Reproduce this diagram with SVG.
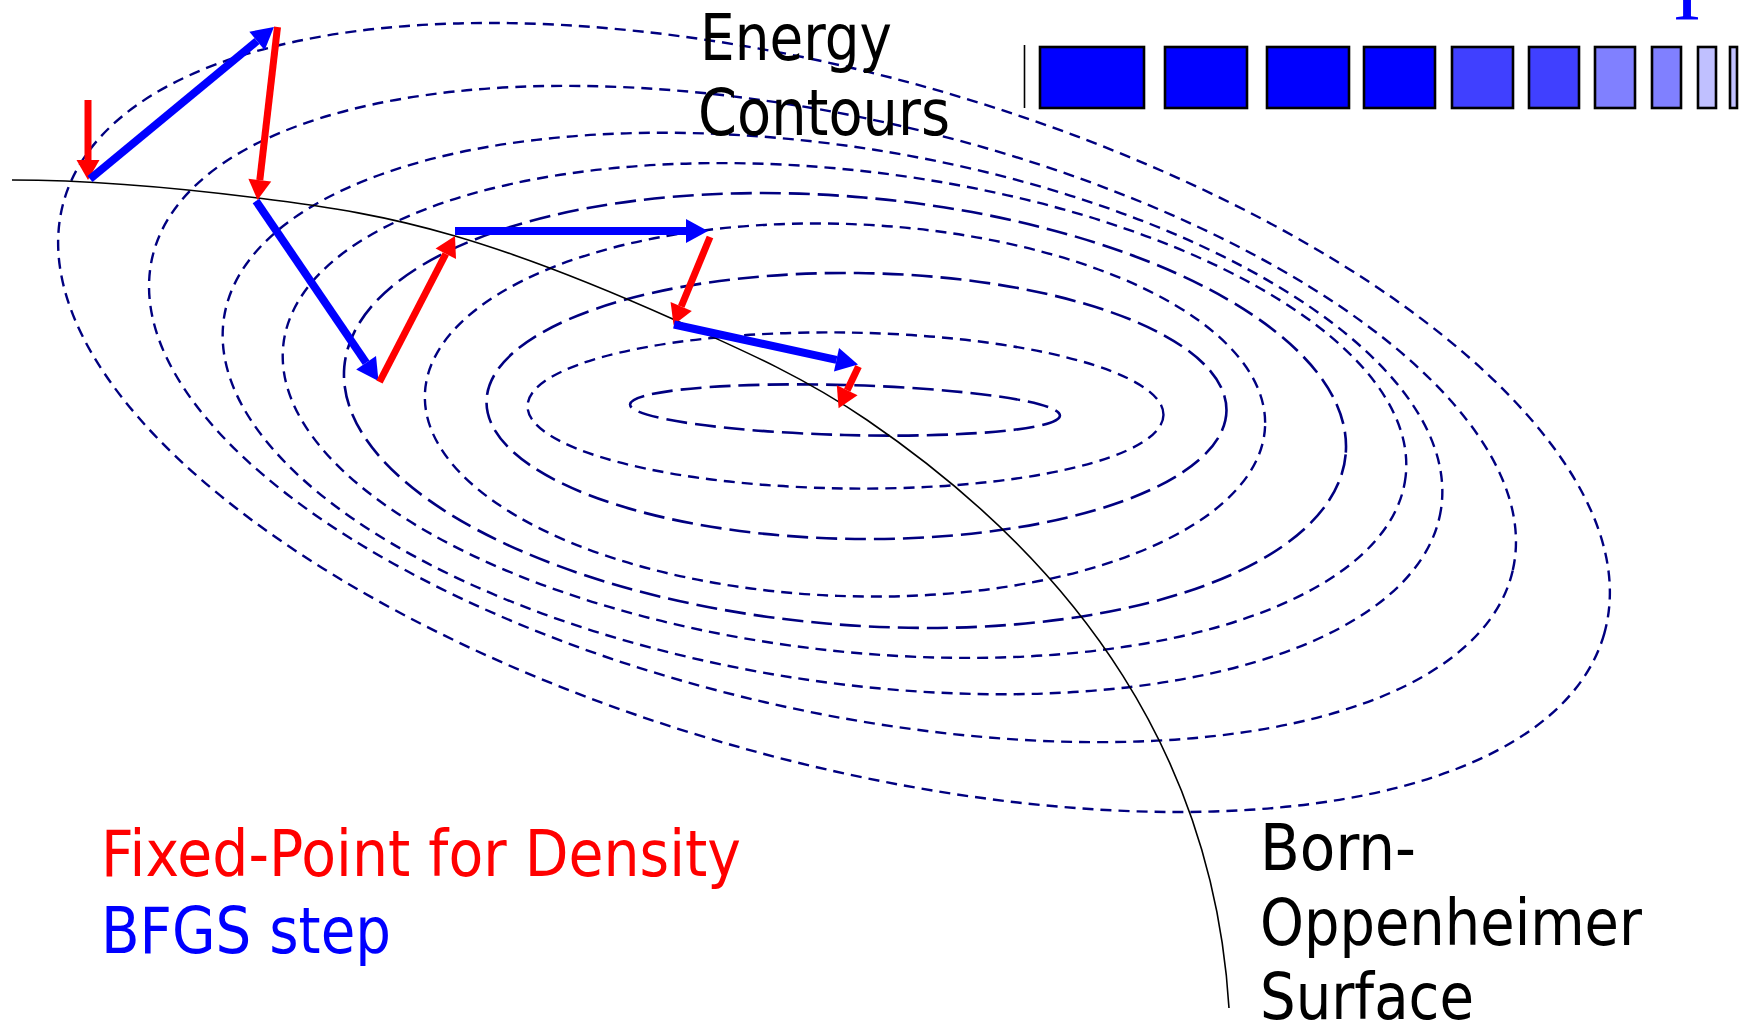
<svg xmlns="http://www.w3.org/2000/svg" width="1740" height="1027" viewBox="0 0 1740 1027">
<style>
.c{fill:none;stroke:#000080;stroke-width:2.4;stroke-dasharray:11 7}
.cl{fill:none;stroke:#000080;stroke-width:2.6;stroke-dasharray:21 8}
.bo{fill:none;stroke:#000;stroke-width:1.6}
.r{fill:none;stroke:#f00;stroke-width:7;marker-end:url(#hr)}
.b{fill:none;stroke:#00f;stroke-width:8;marker-end:url(#hb)}
.t{font-family:"DejaVu Sans",Verdana,sans-serif;font-size:64px}
.k{stroke:#000;stroke-width:2.6}
</style>
<defs>
<marker id="hr" markerUnits="userSpaceOnUse" markerWidth="20" markerHeight="24" refX="0" refY="12" orient="auto" overflow="visible"><path d="M0,0.5 L20,12 L0,23.5 Z" fill="#f00"/></marker>
<marker id="hb" markerUnits="userSpaceOnUse" markerWidth="22" markerHeight="24" refX="0" refY="12" orient="auto" overflow="visible"><path d="M0,0 L22,12 L0,24 Z" fill="#00f"/></marker>
</defs>
<g id="contours">
<ellipse class="cl" cx="845" cy="410" rx="215" ry="25" transform="rotate(1.5 845 410)"/>
<ellipse class="c" cx="845.5" cy="410.5" rx="318" ry="78" transform="rotate(0.8 845.5 410.5)"/>
<ellipse class="cl" cx="856.5" cy="406" rx="370" ry="133" transform="rotate(0.7 856.5 406)"/>
<ellipse class="c" cx="845" cy="410" rx="420.4" ry="186" transform="rotate(2.2 845 410)"/>
<ellipse class="cl" cx="845" cy="410.5" rx="502.6" ry="213.8" transform="rotate(5 845 410.5)"/>
<ellipse class="c" cx="844.5" cy="410.5" rx="565" ry="240" transform="rotate(6.75 844.5 410.5)"/>
<ellipse class="c" cx="832.5" cy="413.5" rx="616" ry="267" transform="rotate(9 832.5 413.5)"/>
<ellipse class="c" cx="832.5" cy="414" rx="698" ry="296" transform="rotate(12.95 832.5 414)"/>
<ellipse class="c" cx="834" cy="417.5" rx="800" ry="343" transform="rotate(15.65 834 417.5)"/>
</g>
<g id="born-oppenheimer-surface">
<path class="bo" d="M12,180 C100,180 184.2,188.7 258,198 C331.8,207.3 385.5,215.7 455,236 C524.5,256.3 606.3,289.3 675,320 C743.7,350.7 803.3,376.7 867,420 C1081.8,566.4 1214,760 1229,1008"/>
</g>
<g id="connectors">
<path class="r" d="M88,100 L88,160"/>
<path class="b" d="M90,179 L257,41"/>
<path class="r" d="M277.5,27 L259.8,180.1"/>
<path class="b" d="M256,201 L366.1,362.8"/>
<path class="r" d="M379.5,382 L445.8,253.8"/>
<path class="b" d="M455,231 L686,231"/>
<path class="r" d="M710,237 L681.2,306.5"/>
<path class="b" d="M674,324.5 L836.5,359.8"/>
<path class="r" d="M858.5,366.5 L847.2,390.2"/>
</g>
<g id="label-energy-contours">
<text class="t" x="700" y="60" textLength="192" lengthAdjust="spacingAndGlyphs">Energy</text>
<text class="t" x="698" y="135" textLength="252" lengthAdjust="spacingAndGlyphs">Contours</text>
</g>
<g id="label-born-oppenheimer">
<text class="t" x="1260" y="870" textLength="156" lengthAdjust="spacingAndGlyphs">Born-</text>
<text class="t" x="1260" y="945" textLength="382" lengthAdjust="spacingAndGlyphs">Oppenheimer</text>
<text class="t" x="1260" y="1019" textLength="214" lengthAdjust="spacingAndGlyphs">Surface</text>
</g>
<g id="legend">
<text class="t" x="101" y="876" fill="#f00" textLength="640" lengthAdjust="spacingAndGlyphs">Fixed-Point for Density</text>
<text class="t" x="101" y="953" fill="#00f" textLength="290" lengthAdjust="spacingAndGlyphs">BFGS step</text>
</g>
<g id="progress-bar">
<line x1="1024.5" y1="45" x2="1024.5" y2="108" stroke="#000" stroke-width="1.6"/>
<rect class="k" x="1040" y="47" width="104" height="61" fill="#0000ff"/>
<rect class="k" x="1165" y="47" width="82" height="61" fill="#0000ff"/>
<rect class="k" x="1267" y="47" width="82" height="61" fill="#0000ff"/>
<rect class="k" x="1364" y="47" width="71" height="61" fill="#0000ff"/>
<rect class="k" x="1452" y="47" width="61" height="61" fill="#4040ff"/>
<rect class="k" x="1529" y="47" width="50" height="61" fill="#4040ff"/>
<rect class="k" x="1595" y="47" width="40" height="61" fill="#8080ff"/>
<rect class="k" x="1652" y="47" width="29" height="61" fill="#8080ff"/>
<rect class="k" x="1698" y="47" width="18" height="61" fill="#c0c0ff"/>
<rect class="k" x="1730" y="47" width="7" height="61" fill="#c0c0ff"/>
<text x="1673" y="20" fill="#00f" font-family="Liberation Serif, serif" font-size="84">I</text>
</g>
</svg>
